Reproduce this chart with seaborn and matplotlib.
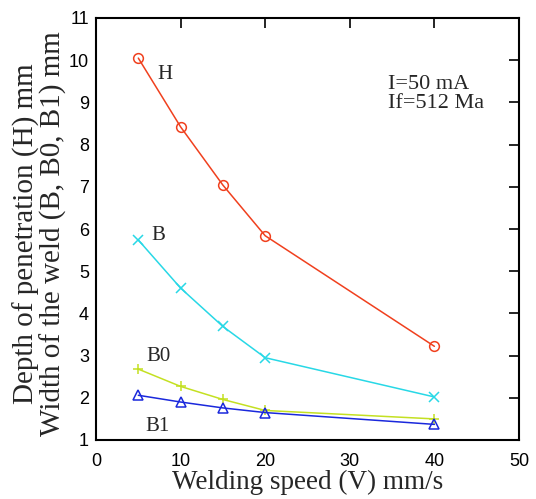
import matplotlib
matplotlib.use("Agg")
import matplotlib.pyplot as plt
import seaborn as sns
import pandas as pd

speed = [5, 10, 15, 20, 40]
H = [10.05, 8.42, 7.04, 5.84, 3.22]
B = [5.74, 4.60, 3.69, 2.95, 2.02]
B0 = [2.68, 2.27, 1.96, 1.70, 1.50]
B1 = [2.06, 1.90, 1.76, 1.65, 1.37]
series_names = ["H", "B", "B0", "B1"]
colors = {"H": "#f0401e", "B": "#28d8e6", "B0": "#c4e022", "B1": "#1a28dc"}
markers = {"H": "o", "B": "x", "B0": "+", "B1": "^"}

df = pd.concat([
    pd.DataFrame({"V": speed, "val": vals, "series": name})
    for name, vals in zip(series_names, [H, B, B0, B1])
])

sns.set_style("white")
plt.rcParams["font.family"] = ["Liberation Serif", "DejaVu Sans"]

fig = plt.figure(figsize=(5.36, 4.99), dpi=100)
ax = fig.add_axes([96/536, 1 - 440/499, (519-96)/536, (440-18)/499])

for name in series_names:
    sub = df[df.series == name]
    sns.lineplot(data=sub, x="V", y="val", ax=ax, color=colors[name], lw=1.1,
                 marker=markers[name], markersize=7, markerfacecolor="none",
                 markeredgecolor=colors[name], markeredgewidth=1.1, legend=False)

ax.set_xlim(0, 50)
ax.set_ylim(1, 11)
ax.set_xticks(range(0, 51, 10))
ax.set_yticks(range(1, 12))
for lab in ax.get_xticklabels() + ax.get_yticklabels():
    lab.set_family(["Liberation Sans"])
    lab.set_fontsize(13)
ax.tick_params(direction="in", length=7, width=1.2, top=True, right=True,
               colors="black")
ax.tick_params(axis="x", pad=9)
ax.tick_params(axis="y", pad=5)
for sp in ax.spines.values():
    sp.set_linewidth(1.5)
    sp.set_color("black")

ax.set_xlabel("Welding speed (V) mm/s", fontsize=19.5, labelpad=0)
ax.set_ylabel("Depth of penetration (H) mm\nWidth of the weld (B, B0, B1) mm",
              fontsize=21, linespacing=1.0)
ax.yaxis.set_label_coords(-0.068, 0.49)

ax.text(7.3, 9.55, "H", fontsize=15)
ax.text(6.5, 5.75, "B", fontsize=15)
ax.text(6.0, 2.97, "B0", fontsize=15, va="center")
ax.text(5.8, 1.33, "B1", fontsize=15, va="center")
ax.text(34.5, 9.2, "I=50 mA\nIf=512 Ma", fontsize=16, linespacing=1.0,
        va="center")

fig.savefig("out.png", dpi=100)
